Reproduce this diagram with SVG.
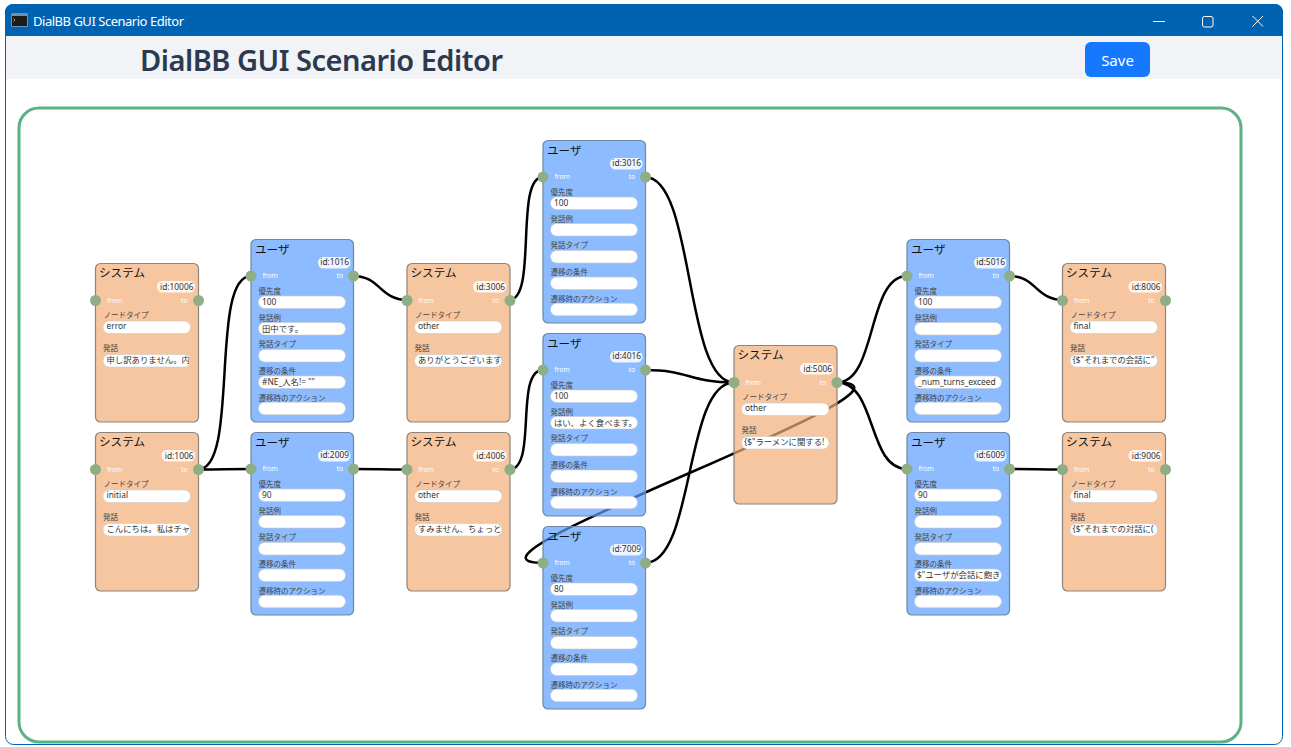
<svg xmlns="http://www.w3.org/2000/svg" width="1291" height="747" viewBox="0 0 1291 747">
<style>
text{font-family:"Noto Sans","Noto Sans CJK JP",sans-serif}
.sys>.b{fill:#F2AE77;fill-opacity:.7;stroke:#8f8478;stroke-width:1.2}
.usr>.b{fill:#5B9EFF;fill-opacity:.7;stroke:#6f86a6;stroke-width:1.2}
.t{font-family:"Noto Sans CJK JP",sans-serif;font-size:11.6px;fill:#111}
.p{fill:#fff;fill-opacity:.85}
.id{font-size:8.4px;fill:#333;text-anchor:end}
.io{font-size:6.8px;fill:#fff}
.h{fill:#8FAE85}
.l{font-family:"Noto Sans CJK JP",sans-serif;font-size:7.5px;fill:#444}
.i{fill:#fff;stroke:#c9c9c9;stroke-width:.6}
.v{font-family:"Noto Sans","Noto Sans CJK JP",sans-serif;font-size:8.4px;fill:#333}
.e{fill:none;stroke:#000;stroke-width:2.5}
.usr .id,.usr .io{transform:translateY(-.6px)}
.sys .v{transform:translateY(-.8px)}
</style>
<defs>
<clipPath id="cs"><rect x="7.5" y="91" width="87.5" height="12.6" rx="6.3"/></clipPath>
<clipPath id="cu"><rect x="7.5" y="136.5" width="87" height="12.5" rx="6.2"/></clipPath>
</defs>
<rect width="1291" height="747" fill="#fff"/>
<g id="window">
<rect x="5.5" y="4.5" width="1277" height="740" rx="8" fill="#fff" stroke="#0063B1" stroke-width="1"/>
<path d="M5 36V12a8 8 0 0 1 8-8H1275a8 8 0 0 1 8 8V36Z" fill="#0063B1"/>
<rect x="6" y="36" width="1276" height="43" fill="#F1F3F6"/>
<rect x="11" y="13" width="17" height="14" rx="1.5" fill="#6f8fae"/>
<rect x="12" y="16" width="15" height="10" fill="#1c1c1c"/>
<path d="M13.5 18.5L15 20L13.500 21.500" stroke="#ddd" stroke-width=".7" fill="none"/>
<text x="33" y="26" font-size="13" fill="#fff" textLength="151" lengthAdjust="spacing">DialBB GUI Scenario Editor</text>
<path d="M1153 21.5H1165" stroke="#fff" stroke-width="1" fill="none"/>
<rect x="1202.5" y="16.5" width="10.5" height="10.5" rx="2" stroke="#fff" stroke-width="1" fill="none"/>
<path d="M1252.5 16L1263 26.5M1263 16L1252.5 26.5" stroke="#fff" stroke-width="1" fill="none"/>
<text x="140" y="71" font-size="29" font-weight="600" fill="#2B3A4E" textLength="363" lengthAdjust="spacing">DialBB GUI Scenario Editor</text>
<rect x="1085" y="42" width="65" height="35" rx="6" fill="#1677FF"/>
<text x="1117.5" y="65.500" font-size="15" fill="#fff" text-anchor="middle">Save</text>
<rect x="19" y="108" width="1222" height="634" rx="20" fill="#fff" stroke="#5FB085" stroke-width="3"/>
</g>
<g id="connectors">
<path class="e" d="M198 469.5C240 469.5 209 276 251 276"/>
<path class="e" d="M198 469.5C225 469.5 224 469 251 469"/>
<path class="e" d="M353.5 276C380 276 380 300 407 300"/>
<path class="e" d="M353.5 469C380 469 380 469.5 407 469.5"/>
<path class="e" d="M509 300C538 300 514 177 543 177"/>
<path class="e" d="M509 469.5C538 469.5 514 370 543 370"/>
<path class="e" d="M645 177C695 177 684 382.5 734 382.5"/>
<path class="e" d="M645 370C690 370 689 382.5 734 382.5"/>
<path class="e" d="M645 563C695 563 684 382.5 734 382.5"/>
<path class="e" d="M837 382.5C877 382.5 867 276 907 276"/>
<path class="e" d="M837 382.5C877 382.5 867 469 907 469"/>
<path class="e" d="M837 382.5C955 382.5 425 563 543 563"/>
<path class="e" d="M1009.5 276C1036 276 1036 300 1063 300"/>
<path class="e" d="M1009.5 469C1036 469 1036 469.5 1063 469.5"/>
</g>
<g id="node-10006" class="sys" transform="translate(95.5,263.5)">
<rect class="b" width="103" height="158.5" rx="5"/><text class="t" x="3.5" y="13.5">システム</text>
<rect class="p" x="61.5" y="17.5" width="38" height="11.5" rx="5.5"/><text class="id" x="98" y="26">id:10006</text>
<text class="io" x="11.5" y="39.5">from</text><text class="io" x="85.5" y="39.5">to</text>
<circle class="h" cx="0" cy="37" r="5.5"/><circle class="h" cx="103" cy="37" r="5.5"/>
<text class="l" x="8" y="54.5">ノードタイプ</text><rect class="i" x="7.5" y="57.5" width="87.5" height="12.6" rx="6.3"/><text class="v" x="11" y="66.5">error</text>
<text class="l" x="7.5" y="87.5">発話</text><rect class="i" x="7.5" y="91" width="87.5" height="12.6" rx="6.3"/><text class="v" clip-path="url(#cs)" x="11" y="100">申し訳ありません。内</text>
</g>
<g id="node-1006" class="sys" transform="translate(95.5,432.5)">
<rect class="b" width="103" height="158.5" rx="5"/><text class="t" x="3.5" y="13.5">システム</text>
<rect class="p" x="66" y="17.5" width="33.5" height="11.5" rx="5.5"/><text class="id" x="98" y="26">id:1006</text>
<text class="io" x="11.5" y="39.5">from</text><text class="io" x="85.5" y="39.5">to</text>
<circle class="h" cx="0" cy="37" r="5.5"/><circle class="h" cx="103" cy="37" r="5.5"/>
<text class="l" x="8" y="54.5">ノードタイプ</text><rect class="i" x="7.5" y="57.5" width="87.5" height="12.6" rx="6.3"/><text class="v" x="11" y="66.5">initial</text>
<text class="l" x="7.5" y="87.5">発話</text><rect class="i" x="7.5" y="91" width="87.5" height="12.6" rx="6.3"/><text class="v" clip-path="url(#cs)" x="11" y="100">こんにちは。私はチャ</text>
</g>
<g id="node-3006" class="sys" transform="translate(407,263.5)">
<rect class="b" width="103" height="158.5" rx="5"/><text class="t" x="3.5" y="13.5">システム</text>
<rect class="p" x="66" y="17.5" width="33.5" height="11.5" rx="5.5"/><text class="id" x="98" y="26">id:3006</text>
<text class="io" x="11.5" y="39.5">from</text><text class="io" x="85.5" y="39.5">to</text>
<circle class="h" cx="0" cy="37" r="5.5"/><circle class="h" cx="103" cy="37" r="5.5"/>
<text class="l" x="8" y="54.5">ノードタイプ</text><rect class="i" x="7.5" y="57.5" width="87.5" height="12.6" rx="6.3"/><text class="v" x="11" y="66.5">other</text>
<text class="l" x="7.5" y="87.5">発話</text><rect class="i" x="7.5" y="91" width="87.5" height="12.6" rx="6.3"/><text class="v" clip-path="url(#cs)" x="11" y="100">ありがとうございます</text>
</g>
<g id="node-4006" class="sys" transform="translate(407,432.5)">
<rect class="b" width="103" height="158.5" rx="5"/><text class="t" x="3.5" y="13.5">システム</text>
<rect class="p" x="66" y="17.5" width="33.5" height="11.5" rx="5.5"/><text class="id" x="98" y="26">id:4006</text>
<text class="io" x="11.5" y="39.5">from</text><text class="io" x="85.5" y="39.5">to</text>
<circle class="h" cx="0" cy="37" r="5.5"/><circle class="h" cx="103" cy="37" r="5.5"/>
<text class="l" x="8" y="54.5">ノードタイプ</text><rect class="i" x="7.5" y="57.5" width="87.5" height="12.6" rx="6.3"/><text class="v" x="11" y="66.5">other</text>
<text class="l" x="7.5" y="87.5">発話</text><rect class="i" x="7.5" y="91" width="87.5" height="12.6" rx="6.3"/><text class="v" clip-path="url(#cs)" x="11" y="100">すみません、ちょっと</text>
</g>
<g id="node-5006" class="sys" transform="translate(734,345.5)">
<rect class="b" width="103" height="158.5" rx="5"/><text class="t" x="3.5" y="13.5">システム</text>
<rect class="p" x="66" y="17.5" width="33.5" height="11.5" rx="5.5"/><text class="id" x="98" y="26">id:5006</text>
<text class="io" x="11.5" y="39.5">from</text><text class="io" x="85.5" y="39.5">to</text>
<circle class="h" cx="0" cy="37" r="5.5"/><circle class="h" cx="103" cy="37" r="5.5"/>
<text class="l" x="8" y="54.5">ノードタイプ</text><rect class="i" x="7.5" y="57.5" width="87.5" height="12.6" rx="6.3"/><text class="v" x="11" y="66.5">other</text>
<text class="l" x="7.5" y="87.5">発話</text><rect class="i" x="7.5" y="91" width="87.5" height="12.6" rx="6.3"/><text class="v" clip-path="url(#cs)" x="10" y="100">{$"ラーメンに関する!</text>
</g>
<g id="node-8006" class="sys" transform="translate(1062.5,263.5)">
<rect class="b" width="103" height="158.5" rx="5"/><text class="t" x="3.5" y="13.5">システム</text>
<rect class="p" x="66" y="17.5" width="33.5" height="11.5" rx="5.5"/><text class="id" x="98" y="26">id:8006</text>
<text class="io" x="11.5" y="39.5">from</text><text class="io" x="85.5" y="39.5">to</text>
<circle class="h" cx="0" cy="37" r="5.5"/><circle class="h" cx="103" cy="37" r="5.5"/>
<text class="l" x="8" y="54.5">ノードタイプ</text><rect class="i" x="7.5" y="57.5" width="87.5" height="12.6" rx="6.3"/><text class="v" x="11" y="66.5">final</text>
<text class="l" x="7.5" y="87.5">発話</text><rect class="i" x="7.5" y="91" width="87.5" height="12.6" rx="6.3"/><text class="v" clip-path="url(#cs)" x="10" y="100">{$"それまでの会話に"</text>
</g>
<g id="node-9006" class="sys" transform="translate(1062.5,432.5)">
<rect class="b" width="103" height="158.5" rx="5"/><text class="t" x="3.5" y="13.5">システム</text>
<rect class="p" x="66" y="17.5" width="33.5" height="11.5" rx="5.5"/><text class="id" x="98" y="26">id:9006</text>
<text class="io" x="11.5" y="39.5">from</text><text class="io" x="85.5" y="39.5">to</text>
<circle class="h" cx="0" cy="37" r="5.5"/><circle class="h" cx="103" cy="37" r="5.5"/>
<text class="l" x="8" y="54.5">ノードタイプ</text><rect class="i" x="7.5" y="57.5" width="87.5" height="12.6" rx="6.3"/><text class="v" x="11" y="66.5">final</text>
<text class="l" x="7.5" y="87.5">発話</text><rect class="i" x="7.5" y="91" width="87.5" height="12.6" rx="6.3"/><text class="v" clip-path="url(#cs)" x="10" y="100">{$"それまでの対話に(</text>
</g>
<g id="node-1016" class="usr" transform="translate(251,239.5)">
<rect class="b" width="102.5" height="182.5" rx="5"/><text class="t" x="4" y="14">ユーザ</text>
<rect class="p" x="67" y="17.5" width="32.5" height="11.5" rx="5.5"/><text class="id" x="98" y="26">id:1016</text>
<text class="io" x="11.5" y="39">from</text><text class="io" x="85.5" y="39">to</text>
<circle class="h" cx="0" cy="36.5" r="5.5"/><circle class="h" cx="102.5" cy="36.5" r="5.5"/>
<text class="l" x="7.5" y="54.5">優先度</text><rect class="i" x="7.5" y="56.5" width="87" height="12.5" rx="6.2"/><text class="v" x="11" y="65.5">100</text>
<text class="l" x="7.5" y="81.5">発話例</text><rect class="i" x="7.5" y="83" width="87" height="12.5" rx="6.2"/><text class="v" x="11" y="92">田中です。</text>
<text class="l" x="7.5" y="107.5">発話タイプ</text><rect class="i" x="7.5" y="110" width="87" height="12.5" rx="6.2"/>
<text class="l" x="7.5" y="134.5">遷移の条件</text><rect class="i" x="7.5" y="136.5" width="87" height="12.5" rx="6.2"/><text class="v" clip-path="url(#cu)" x="11" y="145.5">#NE_人名!= ""</text>
<text class="l" x="7.5" y="161">遷移時のアクション</text><rect class="i" x="7.5" y="162.7" width="87" height="12.5" rx="6.2"/>
</g>
<g id="node-2009" class="usr" transform="translate(251,432.5)">
<rect class="b" width="102.5" height="182.5" rx="5"/><text class="t" x="4" y="14">ユーザ</text>
<rect class="p" x="67" y="17.5" width="32.5" height="11.5" rx="5.5"/><text class="id" x="98" y="26">id:2009</text>
<text class="io" x="11.5" y="39">from</text><text class="io" x="85.5" y="39">to</text>
<circle class="h" cx="0" cy="36.5" r="5.5"/><circle class="h" cx="102.5" cy="36.5" r="5.5"/>
<text class="l" x="7.5" y="54.5">優先度</text><rect class="i" x="7.5" y="56.5" width="87" height="12.5" rx="6.2"/><text class="v" x="11" y="65.5">90</text>
<text class="l" x="7.5" y="81.5">発話例</text><rect class="i" x="7.5" y="83" width="87" height="12.5" rx="6.2"/>
<text class="l" x="7.5" y="107.5">発話タイプ</text><rect class="i" x="7.5" y="110" width="87" height="12.5" rx="6.2"/>
<text class="l" x="7.5" y="134.5">遷移の条件</text><rect class="i" x="7.5" y="136.5" width="87" height="12.5" rx="6.2"/>
<text class="l" x="7.5" y="161">遷移時のアクション</text><rect class="i" x="7.5" y="162.7" width="87" height="12.5" rx="6.2"/>
</g>
<g id="node-3016" class="usr" transform="translate(543,140.5)">
<rect class="b" width="102.5" height="182.5" rx="5"/><text class="t" x="4" y="14">ユーザ</text>
<rect class="p" x="67" y="17.5" width="32.5" height="11.5" rx="5.5"/><text class="id" x="98" y="26">id:3016</text>
<text class="io" x="11.5" y="39">from</text><text class="io" x="85.5" y="39">to</text>
<circle class="h" cx="0" cy="36.5" r="5.5"/><circle class="h" cx="102.5" cy="36.5" r="5.5"/>
<text class="l" x="7.5" y="54.5">優先度</text><rect class="i" x="7.5" y="56.5" width="87" height="12.5" rx="6.2"/><text class="v" x="11" y="65.5">100</text>
<text class="l" x="7.5" y="81.5">発話例</text><rect class="i" x="7.5" y="83" width="87" height="12.5" rx="6.2"/>
<text class="l" x="7.5" y="107.5">発話タイプ</text><rect class="i" x="7.5" y="110" width="87" height="12.5" rx="6.2"/>
<text class="l" x="7.5" y="134.5">遷移の条件</text><rect class="i" x="7.5" y="136.5" width="87" height="12.5" rx="6.2"/>
<text class="l" x="7.5" y="161">遷移時のアクション</text><rect class="i" x="7.5" y="162.7" width="87" height="12.5" rx="6.2"/>
</g>
<g id="node-4016" class="usr" transform="translate(543,333.5)">
<rect class="b" width="102.5" height="182.5" rx="5"/><text class="t" x="4" y="14">ユーザ</text>
<rect class="p" x="67" y="17.5" width="32.5" height="11.5" rx="5.5"/><text class="id" x="98" y="26">id:4016</text>
<text class="io" x="11.5" y="39">from</text><text class="io" x="85.5" y="39">to</text>
<circle class="h" cx="0" cy="36.5" r="5.5"/><circle class="h" cx="102.5" cy="36.5" r="5.5"/>
<text class="l" x="7.5" y="54.5">優先度</text><rect class="i" x="7.5" y="56.5" width="87" height="12.5" rx="6.2"/><text class="v" x="11" y="65.5">100</text>
<text class="l" x="7.5" y="81.5">発話例</text><rect class="i" x="7.5" y="83" width="87" height="12.5" rx="6.2"/><text class="v" x="11" y="92">はい、よく食べます。</text>
<text class="l" x="7.5" y="107.5">発話タイプ</text><rect class="i" x="7.5" y="110" width="87" height="12.5" rx="6.2"/>
<text class="l" x="7.5" y="134.5">遷移の条件</text><rect class="i" x="7.5" y="136.5" width="87" height="12.5" rx="6.2"/>
<text class="l" x="7.5" y="161">遷移時のアクション</text><rect class="i" x="7.5" y="162.7" width="87" height="12.5" rx="6.2"/>
</g>
<g id="node-7009" class="usr" transform="translate(543,526.5)">
<rect class="b" width="102.5" height="182.5" rx="5"/><text class="t" x="4" y="14">ユーザ</text>
<rect class="p" x="67" y="17.5" width="32.5" height="11.5" rx="5.5"/><text class="id" x="98" y="26">id:7009</text>
<text class="io" x="11.5" y="39">from</text><text class="io" x="85.5" y="39">to</text>
<circle class="h" cx="0" cy="36.5" r="5.5"/><circle class="h" cx="102.5" cy="36.5" r="5.5"/>
<text class="l" x="7.5" y="54.5">優先度</text><rect class="i" x="7.5" y="56.5" width="87" height="12.5" rx="6.2"/><text class="v" x="11" y="65.5">80</text>
<text class="l" x="7.5" y="81.5">発話例</text><rect class="i" x="7.5" y="83" width="87" height="12.5" rx="6.2"/>
<text class="l" x="7.5" y="107.5">発話タイプ</text><rect class="i" x="7.5" y="110" width="87" height="12.5" rx="6.2"/>
<text class="l" x="7.5" y="134.5">遷移の条件</text><rect class="i" x="7.5" y="136.5" width="87" height="12.5" rx="6.2"/>
<text class="l" x="7.5" y="161">遷移時のアクション</text><rect class="i" x="7.5" y="162.7" width="87" height="12.5" rx="6.2"/>
</g>
<g id="node-5016" class="usr" transform="translate(907,239.5)">
<rect class="b" width="102.5" height="182.5" rx="5"/><text class="t" x="4" y="14">ユーザ</text>
<rect class="p" x="67" y="17.5" width="32.5" height="11.5" rx="5.5"/><text class="id" x="98" y="26">id:5016</text>
<text class="io" x="11.5" y="39">from</text><text class="io" x="85.5" y="39">to</text>
<circle class="h" cx="0" cy="36.5" r="5.5"/><circle class="h" cx="102.5" cy="36.5" r="5.5"/>
<text class="l" x="7.5" y="54.5">優先度</text><rect class="i" x="7.5" y="56.5" width="87" height="12.5" rx="6.2"/><text class="v" x="11" y="65.5">100</text>
<text class="l" x="7.5" y="81.5">発話例</text><rect class="i" x="7.5" y="83" width="87" height="12.5" rx="6.2"/>
<text class="l" x="7.5" y="107.5">発話タイプ</text><rect class="i" x="7.5" y="110" width="87" height="12.5" rx="6.2"/>
<text class="l" x="7.5" y="134.5">遷移の条件</text><rect class="i" x="7.5" y="136.5" width="87" height="12.5" rx="6.2"/><text class="v" clip-path="url(#cu)" x="11" y="145.5">_num_turns_exceed</text>
<text class="l" x="7.5" y="161">遷移時のアクション</text><rect class="i" x="7.5" y="162.7" width="87" height="12.5" rx="6.2"/>
</g>
<g id="node-6009" class="usr" transform="translate(907,432.5)">
<rect class="b" width="102.5" height="182.5" rx="5"/><text class="t" x="4" y="14">ユーザ</text>
<rect class="p" x="67" y="17.5" width="32.5" height="11.5" rx="5.5"/><text class="id" x="98" y="26">id:6009</text>
<text class="io" x="11.5" y="39">from</text><text class="io" x="85.5" y="39">to</text>
<circle class="h" cx="0" cy="36.5" r="5.5"/><circle class="h" cx="102.5" cy="36.5" r="5.5"/>
<text class="l" x="7.5" y="54.5">優先度</text><rect class="i" x="7.5" y="56.5" width="87" height="12.5" rx="6.2"/><text class="v" x="11" y="65.5">90</text>
<text class="l" x="7.5" y="81.5">発話例</text><rect class="i" x="7.5" y="83" width="87" height="12.5" rx="6.2"/>
<text class="l" x="7.5" y="107.5">発話タイプ</text><rect class="i" x="7.5" y="110" width="87" height="12.5" rx="6.2"/>
<text class="l" x="7.5" y="134.5">遷移の条件</text><rect class="i" x="7.5" y="136.5" width="87" height="12.5" rx="6.2"/><text class="v" clip-path="url(#cu)" x="10" y="145.5">$"ユーザが会話に飽き</text>
<text class="l" x="7.5" y="161">遷移時のアクション</text><rect class="i" x="7.5" y="162.7" width="87" height="12.5" rx="6.2"/>
</g>
</svg>
